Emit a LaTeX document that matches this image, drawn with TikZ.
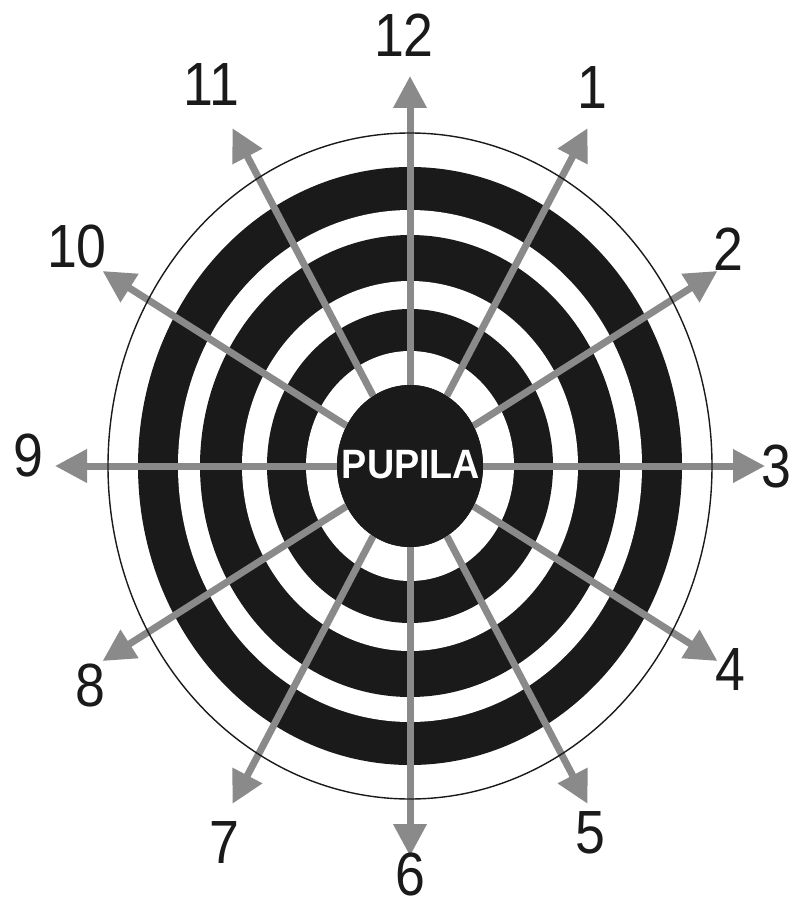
\documentclass[tikz,border=0pt]{standalone}
\usepackage{fontspec}
\setmainfont{Liberation Sans}
\usetikzlibrary{arrows.meta,shapes.geometric}
\definecolor{arrowgray}{RGB}{138,138,138}
\definecolor{ringblack}{RGB}{26,26,26}
\tikzset{
  ray/.style={draw=arrowgray, line width=7pt, -{Triangle[length=32pt,width=32pt]}},
  clocknum/.style={font=\fontsize{61}{61}\selectfont, text=ringblack, inner sep=0pt},
  pupilbox/.style={ellipse, fill=ringblack, minimum width=146pt, minimum height=162pt, inner sep=0pt},
  pupiltext/.style={font=\fontsize{41}{41}\selectfont\bfseries, text=white, inner sep=0pt}
}
\begin{document}
\begin{tikzpicture}[x=1pt,y=-1pt]
\useasboundingbox (0,0) rectangle (790,909);
\fill[white] (0,0) rectangle (790,909);
% rings
\fill[ringblack] (410,466) ellipse [x radius=272, y radius=299];
\fill[white] (410,466) ellipse [x radius=232, y radius=256];
\fill[ringblack] (410,466) ellipse [x radius=210, y radius=231];
\fill[white] (410,466) ellipse [x radius=168, y radius=185];
\fill[ringblack] (410,466) ellipse [x radius=143, y radius=157];
\fill[white] (410,466) ellipse [x radius=104, y radius=115];
% pupil
\node[pupilbox] (pupil) at (410,466) {};
% tips
\foreach \k in {1,...,12} {
  \coordinate (t\k) at ({410+355*cos(90-30*\k)}, {466-390*sin(90-30*\k)});
}
\foreach \k in {1,...,12} {
  \draw[ray] (pupil) -- (t\k);
}
\node[pupilbox] (pupilcover) at (410,466) {};
\node[pupiltext] (pupillabel) at (411,465) {\scalebox{0.92}[1]{PUPILA}};
% outer thin ellipse
\draw[ringblack, line width=1.4pt] (410,466) ellipse [x radius=302, y radius=333];
% labels
\node[clocknum] (l12) at (404,35) {\scalebox{0.88}[1]{12}};
\node[clocknum] (l11) at (211,85) {\scalebox{0.88}[1]{11}};
\node[clocknum] (l1) at (592,88) {\scalebox{0.88}[1]{1}};
\node[clocknum] (l10) at (77,247) {\scalebox{0.88}[1]{10}};
\node[clocknum] (l2) at (728,249) {\scalebox{0.88}[1]{2}};
\node[clocknum] (l9) at (28,455) {\scalebox{0.88}[1]{9}};
\node[clocknum] (l3) at (776,466) {\scalebox{0.88}[1]{3}};
\node[clocknum] (l8) at (90,685) {\scalebox{0.88}[1]{8}};
\node[clocknum] (l4) at (730,670) {\scalebox{0.88}[1]{4}};
\node[clocknum] (l7) at (224,843) {\scalebox{0.88}[1]{7}};
\node[clocknum] (l5) at (590,833) {\scalebox{0.88}[1]{5}};
\node[clocknum] (l6) at (410,874) {\scalebox{0.88}[1]{6}};
\end{tikzpicture}
\end{document}
